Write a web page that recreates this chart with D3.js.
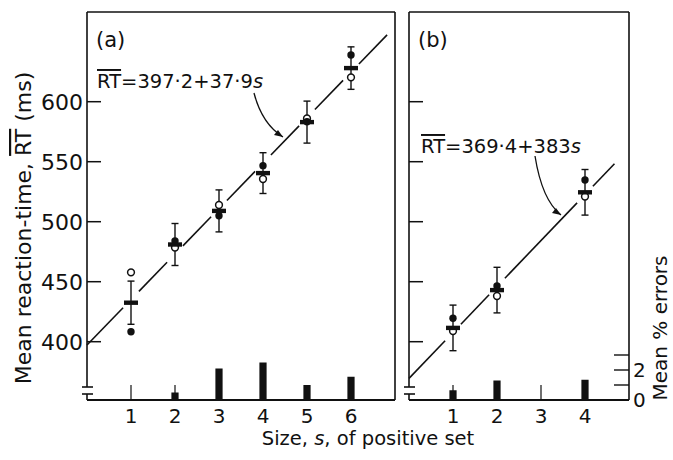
<!DOCTYPE html>
<html><head><meta charset="utf-8">
<script src="https://cdn.jsdelivr.net/npm/d3@7"></script>
<style>
html,body{margin:0;padding:0;background:#fff;}
svg{display:block;font-family:"DejaVu Sans",Verdana,sans-serif;}
</style></head>
<body><svg id="c" width="673" height="460"></svg>
<script>
// ---- data ----
const sizesA = [1, 2, 3, 4, 5, 6];
const meanA = [432.5, 481, 509, 540.5, 583, 628];
const seA = [18, 17.5, 17.5, 17, 17.5, 17.7];
const filledA = [408.3, 484, 505, 546.7, 583.3, 638.9];
const openA = [457.8, 478.4, 513.9, 535.6, 586, 620.3];
const errorsA = [0, 0.5, 2.1, 2.5, 1.0, 1.55];
const fitA = {a: 397.2, b: 37.9};

const sizesB = [1, 2, 4];
const meanB = [411.5, 443, 524.5];
const seB = [19, 19, 19];
const filledB = [419.5, 446.4, 534.8];
const openB = [408.9, 438.1, 521];
const errorsBsizes = [1, 2, 3, 4];
const errorsB = [0.65, 1.3, 0, 1.35];
const fitB = {a: 369.4, b: 38.3};

const rtTicks = [400, 450, 500, 550, 600];
const xTicksA = [1, 2, 3, 4, 5, 6];
const xTicksB = [1, 2, 3, 4];
const errTicks = [0, 1, 2, 3];
const errLabels = [0, 2];

// ---- layout ----
const svg = d3.select("#c");
const plotTop = 12, plotBottom = 400;
const y = d3.scaleLinear().domain([400, 600]).range([341.7, 101.7]);
const yErr = d3.scaleLinear().domain([0, 2]).range([plotBottom, 370]);
const xA = d3.scaleLinear().domain([0, 7]).range([87, 395]);
const xB = d3.scaleLinear().domain([0, 5]).range([409, 629]);
const ink = "#111";

function panel(x, sizes, mean, se, filled, open, errSizes, errs, fit, fitEnd, xticks, label, eq, eqPos, arrow, showLabels) {
  const g = svg.append("g");
  const [x0, x1] = x.range();
  g.append("line").attr("x1", x0).attr("x2", x0).attr("y1", plotTop).attr("y2", 387).attr("stroke", ink).attr("stroke-width", 1.6);
  g.append("line").attr("x1", x0).attr("x2", x0).attr("y1", 394).attr("y2", plotBottom).attr("stroke", ink).attr("stroke-width", 1.6);
  [387, 394].forEach(yy => g.append("line").attr("x1", x0 - 5).attr("x2", x0 + 6).attr("y1", yy).attr("y2", yy).attr("stroke", ink).attr("stroke-width", 1.6));
  g.append("line").attr("x1", x0).attr("x2", x1).attr("y1", plotTop).attr("y2", plotTop).attr("stroke", ink).attr("stroke-width", 1.4);
  g.append("line").attr("x1", x1).attr("x2", x1).attr("y1", plotTop).attr("y2", plotBottom).attr("stroke", ink).attr("stroke-width", 1.6);
  g.append("line").attr("x1", x0).attr("x2", x1).attr("y1", plotBottom).attr("y2", plotBottom).attr("stroke", ink).attr("stroke-width", 1.8);

  g.selectAll(".yt").data(rtTicks).enter().append("line")
    .attr("x1", x0).attr("x2", x0 + 14).attr("y1", d => y(d)).attr("y2", d => y(d))
    .attr("stroke", ink).attr("stroke-width", 1.5);
  if (showLabels) {
    g.selectAll(".yl").data(rtTicks).enter().append("text")
      .attr("x", x0 - 4).attr("y", d => y(d)).attr("dy", "0.36em")
      .attr("text-anchor", "end").attr("font-size", 22).attr("fill", ink).text(d => d);
  }
  g.selectAll(".xt").data(xticks).enter().append("line")
    .attr("x1", d => x(d)).attr("x2", d => x(d)).attr("y1", plotBottom).attr("y2", plotBottom - 15)
    .attr("stroke", ink).attr("stroke-width", 1.2);
  g.selectAll(".xl").data(xticks).enter().append("text")
    .attr("x", d => x(d)).attr("y", 423).attr("text-anchor", "middle")
    .attr("font-size", 20).attr("fill", ink).text(d => d);

  g.selectAll(".eb").data(errSizes.map((s, i) => ({s, v: errs[i]}))).enter().append("rect")
    .attr("x", d => x(d.s) - 3.6).attr("width", 7.2)
    .attr("y", d => yErr(d.v)).attr("height", d => plotBottom - yErr(d.v)).attr("fill", ink);

  const gap = 0.18;
  const stops = [0].concat(sizes).concat([fitEnd]);
  for (let i = 0; i < stops.length - 1; i++) {
    const sA = stops[i] === 0 ? 0 : stops[i] + gap;
    const sB = i + 1 === stops.length - 1 ? stops[i + 1] : stops[i + 1] - gap;
    g.append("line")
      .attr("x1", x(sA)).attr("y1", y(fit.a + fit.b * sA))
      .attr("x2", x(sB)).attr("y2", y(fit.a + fit.b * sB))
      .attr("stroke", ink).attr("stroke-width", 1.6);
  }

  sizes.forEach((s, i) => {
    const cx = x(s);
    g.append("line").attr("x1", cx).attr("x2", cx).attr("y1", y(mean[i] + se[i])).attr("y2", y(mean[i] - se[i])).attr("stroke", ink).attr("stroke-width", 1.4);
    [mean[i] + se[i], mean[i] - se[i]].forEach(v =>
      g.append("line").attr("x1", cx - 3.5).attr("x2", cx + 3.5).attr("y1", y(v)).attr("y2", y(v)).attr("stroke", ink).attr("stroke-width", 1.4));
    g.append("circle").attr("cx", cx).attr("cy", y(open[i])).attr("r", 3.4).attr("fill", "#fff").attr("stroke", ink).attr("stroke-width", 1.5);
    g.append("circle").attr("cx", cx).attr("cy", y(filled[i])).attr("r", 3.7).attr("fill", ink);
    g.append("rect").attr("x", cx - 7).attr("width", 14).attr("y", y(mean[i]) - 2.2).attr("height", 4.4).attr("fill", ink);
  });

  g.append("text").attr("x", x0 + 9).attr("y", 47).attr("font-size", 21).attr("fill", ink).text(label);

  const t = g.append("text").attr("x", eqPos[0]).attr("y", eqPos[1]).attr("font-size", 19.5).attr("fill", ink);
  t.append("tspan").style("text-decoration", "overline").text("RT");
  t.append("tspan").text(eq);
  t.append("tspan").attr("font-style", "italic").text("s");

  g.append("path").attr("d", arrow).attr("fill", "none").attr("stroke", ink).attr("stroke-width", 1.3);
}

panel(xA, sizesA, meanA, seA, filledA, openA, sizesA, errorsA, fitA, 6.82, xTicksA, "(a)",
  "=397·2+37·9", [97, 88], "M254,93 Q262,124 283,137", true);
panel(xB, sizesB, meanB, seB, filledB, openB, errorsBsizes, errorsB, fitB, 4.67, xTicksB, "(b)",
  "=369·4+383", [421, 153], "M535,156 Q542,200 561,215", false);

svg.append("path").attr("d", "M283,137 L274,135 L278,130 Z").attr("fill", ink);
svg.append("path").attr("d", "M561,215 L552,213 L556,208 Z").attr("fill", ink);

const xr = xB.range()[1];
svg.selectAll(".et").data(errTicks).enter().append("line")
  .attr("x1", xr - 15).attr("x2", xr).attr("y1", d => yErr(d)).attr("y2", d => yErr(d))
  .attr("stroke", ink).attr("stroke-width", 1.4);
svg.selectAll(".el").data(errLabels).enter().append("text")
  .attr("x", xr + 4).attr("y", d => yErr(d)).attr("dy", "0.36em")
  .attr("font-size", 20).attr("fill", ink).text(d => d);

svg.append("text").attr("transform", "translate(31,228) rotate(-90)").attr("text-anchor", "middle")
  .attr("font-size", 22).attr("fill", ink)
  .call(t => {
    t.append("tspan").text("Mean  reaction-time, ");
    t.append("tspan").style("text-decoration", "overline").text("RT");
    t.append("tspan").text(" (ms)");
  });
svg.append("text").attr("x", 368).attr("y", 445).attr("text-anchor", "middle")
  .attr("font-size", 19.5).attr("fill", ink)
  .call(t => {
    t.append("tspan").text("Size, ");
    t.append("tspan").attr("font-style", "italic").text("s");
    t.append("tspan").text(", of  positive  set");
  });
svg.append("text").attr("transform", "translate(667,328) rotate(-90)").attr("text-anchor", "middle")
  .attr("font-size", 20).attr("fill", ink).text("Mean % errors");
</script></body></html>
